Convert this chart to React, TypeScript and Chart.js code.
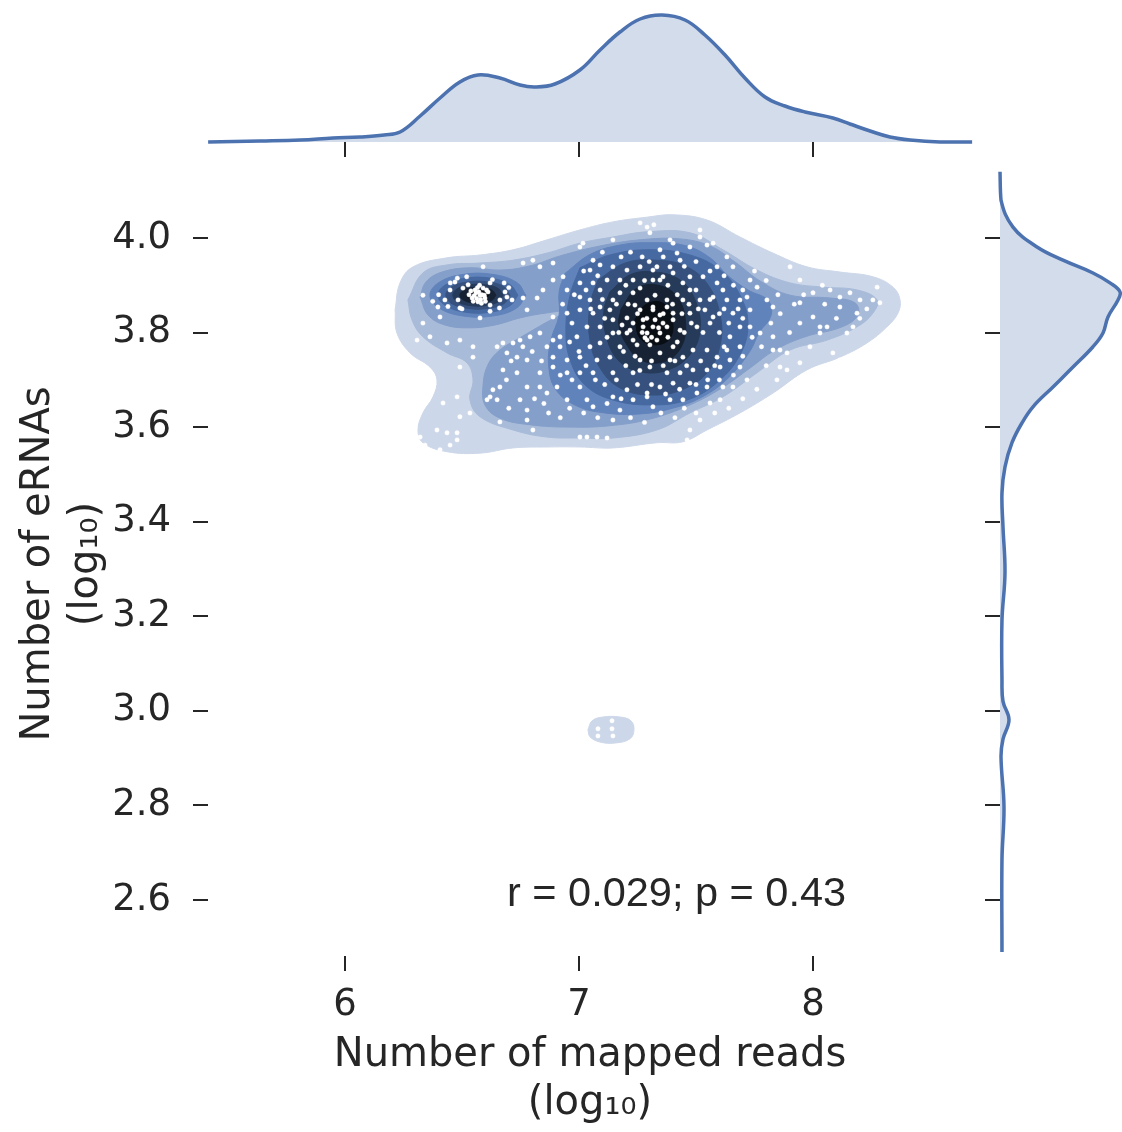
import React, { useEffect, useRef } from 'react';
import { Chart, registerables } from 'chart.js';

Chart.register(...registerables);

// ---------------- data ----------------
const xLimits = [5.4145, 8.6795];
const yLimits = [2.4816, 4.1395];
const xTicks = [6, 7, 8];
const yTicks = [2.6, 2.8, 3.0, 3.2, 3.4, 3.6, 3.8, 4.0];

const xTitle = ['Number of mapped reads', '(log\u2081\u2080)'];
const yTitle = ['Number of eRNAs', '(log\u2081\u2080)'];
const corrLabel = 'r = 0.029; p = 0.43';
const corrPos = [6.692, 2.588];

// marginal KDE of log10 mapped reads (top)
const topKdeX = [5.415, 5.637, 5.808, 5.949, 6.064, 6.167, 6.235, 6.321, 6.406, 6.491, 6.568, 6.662, 6.748, 6.812, 6.897, 7.004, 7.09, 7.175, 7.261, 7.355, 7.453, 7.538, 7.624, 7.709, 7.795, 7.88, 7.966, 8.085, 8.158, 8.244, 8.329, 8.415, 8.543, 8.68];
const topKdeDensity = [0.0, 0.01, 0.02, 0.04, 0.05, 0.07, 0.1, 0.26, 0.44, 0.6, 0.67, 0.64, 0.57, 0.55, 0.58, 0.72, 0.92, 1.1, 1.23, 1.27, 1.22, 1.07, 0.87, 0.64, 0.45, 0.36, 0.3, 0.24, 0.18, 0.11, 0.05, 0.02, 0.0, 0.0];

// marginal KDE of log10 eRNAs (right)
const rightKdeY = [4.14, 4.08, 4.023, 3.981, 3.953, 3.926, 3.905, 3.886, 3.869, 3.833, 3.799, 3.77, 3.727, 3.685, 3.643, 3.609, 3.567, 3.516, 3.461, 3.389, 3.292, 3.192, 3.066, 3.02, 2.981, 2.94, 2.903, 2.797, 2.685, 2.49];
const rightKdeDensity = [0.0, 0.01, 0.13, 0.37, 0.63, 0.93, 1.1, 1.2, 1.18, 1.08, 1.03, 0.93, 0.73, 0.53, 0.33, 0.22, 0.12, 0.05, 0.02, 0.03, 0.05, 0.02, 0.02, 0.03, 0.09, 0.03, 0.01, 0.04, 0.02, 0.02];

// KDE contour outlines (x, y), lowest density level first
const level1 = [[6.214,3.848],[6.235,3.905],[6.291,3.939],[6.436,3.958],[6.577,3.964],[6.718,3.975],[6.863,3.996],[7.004,4.017],[7.145,4.034],[7.291,4.044],[7.402,4.049],[7.547,4.038],[7.688,4.002],[7.829,3.968],[7.974,3.939],[8.115,3.928],[8.256,3.918],[8.342,3.896],[8.372,3.869],[8.363,3.841],[8.316,3.812],[8.231,3.778],[8.115,3.748],[7.974,3.721],[7.829,3.672],[7.688,3.63],[7.547,3.594],[7.444,3.569],[7.333,3.567],[7.145,3.556],[7.004,3.558],[6.863,3.558],[6.718,3.556],[6.577,3.545],[6.436,3.548],[6.333,3.567],[6.312,3.594],[6.333,3.63],[6.376,3.664],[6.393,3.7],[6.363,3.727],[6.278,3.757],[6.222,3.799]];
const level1Small = [[7.038,2.96],[7.056,2.979],[7.103,2.987],[7.175,2.987],[7.222,2.979],[7.235,2.96],[7.218,2.941],[7.154,2.932],[7.09,2.934],[7.047,2.945]];
const level2 = [[6.269,3.869],[6.333,3.926],[6.436,3.943],[6.577,3.947],[6.718,3.953],[6.863,3.968],[7.004,3.989],[7.145,4.002],[7.291,4.013],[7.474,4.011],[7.615,3.975],[7.761,3.932],[7.902,3.905],[8.043,3.896],[8.188,3.89],[8.274,3.869],[8.256,3.841],[8.188,3.812],[8.06,3.784],[7.902,3.763],[7.761,3.715],[7.615,3.664],[7.474,3.63],[7.333,3.594],[7.145,3.577],[7.004,3.577],[6.863,3.579],[6.718,3.594],[6.577,3.622],[6.534,3.658],[6.547,3.7],[6.521,3.736],[6.436,3.757],[6.333,3.791],[6.286,3.827]];
const level3 = [[6.321,3.875],[6.346,3.907],[6.415,3.928],[6.534,3.937],[6.662,3.932],[6.791,3.941],[6.919,3.962],[7.09,3.983],[7.261,3.996],[7.432,3.998],[7.56,3.983],[7.667,3.949],[7.774,3.909],[7.902,3.879],[8.073,3.873],[8.179,3.863],[8.192,3.837],[8.124,3.812],[7.966,3.791],[7.838,3.763],[7.731,3.725],[7.611,3.683],[7.474,3.647],[7.303,3.617],[7.132,3.603],[6.962,3.6],[6.791,3.605],[6.662,3.619],[6.598,3.647],[6.59,3.689],[6.611,3.732],[6.662,3.763],[6.748,3.789],[6.855,3.82],[6.94,3.844],[6.855,3.841],[6.748,3.831],[6.641,3.816],[6.534,3.81],[6.427,3.816],[6.355,3.837]];
const level4 = [[6.94,3.925],[7.047,3.965],[7.175,3.985],[7.303,3.99],[7.453,3.984],[7.56,3.958],[7.637,3.92],[7.722,3.89],[7.808,3.868],[7.82,3.835],[7.77,3.8],[7.73,3.76],[7.64,3.705],[7.53,3.665],[7.4,3.64],[7.261,3.628],[7.111,3.63],[6.99,3.645],[6.9,3.68],[6.87,3.732],[6.88,3.784],[6.915,3.837],[6.915,3.886]];
const level4Left = [[6.773,3.879],[6.734,3.906],[6.631,3.923],[6.505,3.923],[6.402,3.906],[6.363,3.879],[6.402,3.852],[6.505,3.835],[6.631,3.835],[6.734,3.852]];
const level5 = [[7.004,3.937],[7.132,3.964],[7.303,3.975],[7.474,3.964],[7.603,3.932],[7.688,3.879],[7.722,3.816],[7.688,3.753],[7.594,3.696],[7.466,3.658],[7.303,3.647],[7.141,3.658],[7.026,3.689],[6.962,3.742],[6.944,3.805],[6.962,3.879]];
const level5Left = [[6.739,3.879],[6.706,3.901],[6.621,3.915],[6.515,3.915],[6.43,3.901],[6.397,3.879],[6.43,3.857],[6.515,3.843],[6.621,3.843],[6.706,3.857]];
const level6 = [[7.081,3.911],[7.197,3.947],[7.325,3.953],[7.453,3.941],[7.551,3.901],[7.603,3.837],[7.603,3.774],[7.551,3.717],[7.44,3.679],[7.303,3.668],[7.175,3.683],[7.09,3.725],[7.047,3.784],[7.047,3.858]];
const level6Left = [[6.705,3.879],[6.679,3.897],[6.61,3.907],[6.526,3.907],[6.457,3.897],[6.431,3.879],[6.457,3.861],[6.526,3.851],[6.61,3.851],[6.679,3.861]];
const level7 = [[7.132,3.886],[7.218,3.922],[7.325,3.928],[7.432,3.911],[7.496,3.869],[7.517,3.805],[7.474,3.753],[7.38,3.721],[7.261,3.717],[7.167,3.742],[7.115,3.795],[7.107,3.848]];
const level7Left = [[6.675,3.879],[6.655,3.893],[6.601,3.901],[6.535,3.901],[6.481,3.893],[6.461,3.879],[6.481,3.865],[6.535,3.857],[6.601,3.857],[6.655,3.865]];
const level8 = [[7.18,3.85],[7.245,3.893],[7.338,3.9],[7.42,3.875],[7.455,3.822],[7.435,3.768],[7.36,3.738],[7.262,3.743],[7.195,3.782],[7.17,3.818]];
const level8Left = [[6.645,3.879],[6.63,3.889],[6.592,3.895],[6.544,3.895],[6.506,3.889],[6.491,3.879],[6.506,3.869],[6.544,3.863],[6.592,3.863],[6.63,3.869]];
const level9 = [[7.239,3.827],[7.282,3.858],[7.355,3.863],[7.397,3.831],[7.389,3.788],[7.325,3.774],[7.261,3.788]];
const level9Left = [[6.615,3.879],[6.591,3.89],[6.545,3.89],[6.521,3.879],[6.545,3.868],[6.591,3.868]];

// samples: (log10 mapped reads, log10 eRNAs)
const samples = [
[6.590,3.939],[6.333,3.879],[6.397,3.854],[6.406,3.833],[6.491,3.852],[6.577,3.831],[6.620,3.905],[6.692,3.875],[6.714,3.869],[6.761,3.873],
[6.821,3.873],[6.778,3.848],[6.846,3.890],[6.889,3.911],[6.932,3.918],[6.949,3.890],[7.004,3.905],[7.047,3.932],[7.060,3.905],[7.004,3.875],
[7.047,3.869],[7.090,3.854],[7.004,3.848],[6.949,3.841],[6.889,3.833],[6.833,3.799],[6.791,3.791],[6.748,3.784],[6.718,3.778],[6.675,3.778],
[6.650,3.770],[6.692,3.757],[6.735,3.748],[6.778,3.742],[6.863,3.770],[6.889,3.784],[6.919,3.791],[6.919,3.770],[6.889,3.748],[6.833,3.715],
[6.889,3.727],[6.949,3.742],[7.004,3.748],[7.047,3.770],[6.991,3.791],[7.034,3.812],[7.060,3.841],[7.090,3.812],[7.090,3.778],[7.077,3.742],
[7.060,3.715],[7.004,3.715],[6.949,3.715],[7.004,3.685],[7.034,3.658],[7.060,3.643],[6.949,3.658],[6.906,3.685],[6.863,3.672],[6.833,3.685],
[6.778,3.685],[6.748,3.658],[6.778,3.636],[6.735,3.715],[6.675,3.721],[6.662,3.685],[6.632,3.679],[6.620,3.664],[6.650,3.658],[6.607,3.658],
[6.491,3.727],[6.547,3.770],[6.491,3.784],[6.436,3.778],[6.363,3.791],[6.333,3.820],[6.308,3.784],[6.547,3.748],[6.479,3.664],[6.419,3.651],
[6.491,3.622],[6.534,3.630],[6.393,3.594],[6.436,3.588],[6.479,3.588],[6.449,3.562],[6.479,3.573],[6.662,3.611],[6.778,3.615],[6.803,3.594],
[7.004,3.579],[7.034,3.579],[7.077,3.579],[7.120,3.577],[7.145,3.615],[7.175,3.636],[7.231,3.658],[7.291,3.664],[7.316,3.643],[7.145,3.664],
[7.205,3.679],[7.303,3.727],[7.376,3.715],[7.389,3.742],[7.132,3.748],[7.145,3.715],[7.231,3.715],[7.261,3.742],[7.175,3.770],[7.145,3.799],
[7.205,3.799],[7.231,3.820],[7.274,3.827],[7.316,3.812],[7.359,3.820],[7.291,3.799],[7.333,3.784],[7.231,3.784],[7.145,3.827],[7.145,3.869],
[7.175,3.884],[7.231,3.884],[7.291,3.869],[7.316,3.848],[7.376,3.869],[7.402,3.841],[7.175,3.911],[7.231,3.911],[7.316,3.911],[7.359,3.918],
[7.389,3.939],[7.333,3.939],[7.261,3.939],[7.145,3.939],[7.120,3.911],[7.060,3.953],[7.004,3.981],[7.017,3.989],[7.145,3.996],[7.291,4.023],
[7.303,4.011],[7.261,4.032],[7.389,3.996],[7.419,3.968],[6.833,3.939],[6.761,3.947],[6.803,3.953],[6.889,3.947],
[7.320,4.028],[7.517,4.017],[7.517,4.002],[7.346,3.975],[7.402,3.989],[7.474,3.981],[7.547,3.985],[7.573,3.989],[7.632,3.960],[7.658,3.939],
[7.590,3.939],[7.530,3.918],[7.474,3.918],[7.402,3.926],[7.346,3.911],[7.316,3.932],[7.444,3.905],[7.590,3.905],[7.615,3.890],[7.573,3.875],
[7.731,3.911],[7.761,3.896],[7.718,3.875],[7.688,3.869],[7.632,3.869],[7.517,3.869],[7.444,3.869],[7.376,3.854],[7.316,3.854],[7.474,3.841],
[7.504,3.812],[7.573,3.833],[7.658,3.841],[7.731,3.848],[7.829,3.854],[7.803,3.869],[7.902,3.939],[7.944,3.911],[8.000,3.884],[8.073,3.890],
[8.115,3.875],[8.158,3.884],[8.201,3.869],[8.256,3.869],[8.286,3.863],[8.274,3.896],[7.944,3.863],[8.000,3.833],[8.030,3.812],[8.060,3.812],
[8.030,3.799],[8.145,3.799],[8.171,3.812],[8.188,3.841],[8.115,3.854],[7.944,3.820],[7.829,3.791],[7.859,3.763],[7.889,3.757],[7.987,3.770],
[8.085,3.757],[8.115,3.742],[8.256,3.778],[7.944,3.736],[7.859,3.727],[7.774,3.799],[7.731,3.812],[7.688,3.812],[7.645,3.791],[7.688,3.770],
[7.632,3.763],[7.590,3.748],[7.547,3.763],[7.487,3.763],[7.444,3.748],[7.402,3.770],[7.346,3.799],[7.376,3.812],[7.402,3.827],[7.274,3.812],
[7.291,3.784],[7.346,3.757],[7.432,3.715],[7.487,3.721],[7.547,3.721],[7.603,3.727],[7.645,3.742],[7.688,3.727],[7.718,3.700],[7.615,3.685],
[7.547,3.685],[7.474,3.693],[7.402,3.693],[7.346,3.685],[7.291,3.672],[7.389,3.658],[7.444,3.658],[7.504,3.672],[7.560,3.651],[7.603,3.658],
[7.658,3.685],[7.517,3.615],[7.560,3.588],[7.474,3.594],[7.462,3.573],[7.846,3.700],[7.889,3.721],[7.829,3.763],
[7.218,3.805],[7.248,3.774],[7.303,3.774],[7.261,3.848],[7.205,3.831],[7.346,3.837],[7.282,3.789],[7.184,3.816],[7.325,3.827],[7.239,3.858],
[7.432,3.805],[7.090,3.890],[7.132,3.848],[7.474,3.890],[7.538,3.848],[7.261,3.894],[7.325,3.879],[7.205,3.932],[7.432,3.953],[7.090,3.943],
[6.556,3.890],[6.577,3.879],[6.598,3.873],[6.568,3.865],[6.543,3.873],[6.611,3.886],[6.590,3.894],[6.526,3.901],[6.470,3.907],[6.449,3.890],
[6.504,3.894],[6.620,3.858],[6.483,3.869],[6.427,3.869],[6.684,3.886],[6.662,3.869],
[6.560,3.884],[6.572,3.886],[6.585,3.880],[6.563,3.872],[6.580,3.870],[6.595,3.879],[6.552,3.878],[6.566,3.895],[6.583,3.862],[6.600,3.866],
[6.548,3.866],[6.605,3.890],[6.538,3.888],[6.575,3.900],[6.530,3.880],
[6.45,3.905],[6.48,3.915],[6.52,3.918],[6.63,3.912],[6.68,3.905],[6.70,3.895],[6.44,3.855],[6.50,3.850],[6.62,3.845],[6.66,3.852],[6.40,3.880],[6.375,3.866],
[7.02,3.93],[7.08,3.92],[7.10,3.97],[7.18,3.96],[7.22,3.97],[7.27,3.96],[7.30,3.95],[7.36,3.96],[7.45,3.94],[7.50,3.95],
[7.56,3.93],[7.62,3.92],[7.66,3.90],[7.70,3.89],[7.68,3.85],[7.62,3.85],[7.56,3.87],[7.50,3.89],[7.42,3.88],[7.38,3.90],
[7.28,3.91],[7.20,3.90],[7.16,3.86],[7.11,3.83],[7.12,3.79],[7.17,3.80],[7.19,3.76],[7.24,3.75],[7.27,3.80],[7.31,3.79],
[7.34,3.81],[7.38,3.79],[7.42,3.78],[7.45,3.80],[7.48,3.82],[7.53,3.80],[7.56,3.82],[7.60,3.80],[7.62,3.77],[7.58,3.73],
[7.52,3.74],[7.46,3.73],[7.41,3.74],[7.36,3.73],[7.31,3.74],[7.26,3.72],[7.20,3.73],[7.16,3.70],[7.11,3.69],[7.07,3.70],
[7.03,3.73],[7.00,3.76],[6.96,3.78],[6.97,3.82],[6.93,3.86],[6.98,3.88],[7.03,3.89],[7.05,3.85],[7.10,3.87],[7.21,3.86],
[7.25,3.84],[7.29,3.83],[7.36,3.84],[7.40,3.86],[7.44,3.84],[7.47,3.86],[7.51,3.85],[7.60,3.84],[7.64,3.82],[7.70,3.83],
[7.74,3.79],[7.70,3.75],[7.66,3.71],[7.60,3.70],[7.55,3.70],[7.50,3.69],[7.43,3.68],[7.37,3.67],[7.31,3.69],[7.25,3.69],
[7.18,3.66],[7.12,3.65],[7.08,3.62],[7.02,3.63],[6.96,3.64],[6.92,3.62],[6.87,3.63],[6.85,3.65],[6.81,3.66],[6.70,3.64],
[6.69,3.70],[6.71,3.74],[6.76,3.77],[6.80,3.76],[6.84,3.74],[6.92,3.71],[6.97,3.70],[7.22,3.62],[7.28,3.61],[7.35,3.63],
[7.41,3.62],[7.45,3.64],[7.50,3.63],[7.58,3.63],[7.64,3.64],[7.70,3.66],[7.76,3.68],[7.80,3.73],[7.78,3.77],[7.82,3.82],
[7.86,3.84],[7.90,3.80],[7.92,3.86],[7.96,3.88],[8.05,3.86],[8.10,3.83],[8.20,3.83],[8.23,3.85],[8.04,3.90],[7.85,3.88],
[7.80,3.91],[7.75,3.93],
[6.321,3.579],[6.342,3.562],[6.406,3.552],
[7.081,2.962],[7.081,2.947],[7.141,2.979],[7.141,2.962],[7.145,2.947]
];

// Blues-like cmap of the deep blue hue, light to dark
const levelColors = ['rgb(204,215,233)', 'rgb(168,187,217)', 'rgb(132,159,202)', 'rgb(97,131,187)', 'rgb(70,105,161)', 'rgb(54,81,125)', 'rgb(38,58,89)', 'rgb(23,35,53)', 'rgb(9,13,20)'];

// ---------------- layout / style ----------------
const W = 1122;
const H = 1132;
const INK = '#262626';
const LINE_BLUE = '#4c72b0';
const FILL_BLUE = 'rgba(76,114,176,0.25)';
const TICK_FONT = { family: '"DejaVu Sans", sans-serif', size: 37 };
const TITLE_FONT = { family: '"DejaVu Sans", sans-serif', size: 40, lineHeight: 1.2 };

const tickGrid = { display: true, drawOnChartArea: false, drawTicks: true, tickLength: 15, color: INK, lineWidth: 2 };

const setTicks = (vals: number[]) => (axis: any) => {
  axis.ticks = vals.map((v) => ({ value: v }));
};

const toXY = (pairs: number[][]) => pairs.map(([x, y]) => ({ x, y }));
const closed = (pairs: number[][]) => toXY([...pairs, pairs[0]]);

function contourDataset(poly: number[][], level: number) {
  const color = levelColors[level];
  return {
    type: 'line',
    data: closed(poly),
    showLine: true,
    fill: 'shape',
    backgroundColor: color,
    borderColor: color,
    borderWidth: 1,
    pointRadius: 0,
    tension: 0.4,
    order: 20 - level,
  };
}

const corrPlugin = {
  id: 'corrText',
  afterDatasetsDraw(chart: any) {
    const { ctx, scales } = chart;
    ctx.save();
    ctx.font = '41.5px "Liberation Sans", Arial, sans-serif';
    ctx.fillStyle = INK;
    ctx.textAlign = 'left';
    ctx.textBaseline = 'alphabetic';
    ctx.fillText(corrLabel, scales.x.getPixelForValue(corrPos[0]), scales.y.getPixelForValue(corrPos[1]));
    ctx.restore();
  },
};

function mainConfig(): any {
  const polys: [number[][], number][] = [
    [level1, 0], [level1Small, 0], [level2, 1], [level3, 2],
    [level4, 3], [level4Left, 3], [level5, 4], [level5Left, 4],
    [level6, 5], [level6Left, 5], [level7, 6], [level7Left, 6],
    [level8, 7], [level8Left, 7], [level9, 8], [level9Left, 8],
  ];
  return {
    type: 'line',
    data: {
      datasets: [
        {
          type: 'line',
          data: toXY(samples),
          showLine: false,
          pointRadius: 2.2,
          pointBackgroundColor: '#ffffff',
          pointBorderColor: 'rgba(255,255,255,0.8)',
          pointBorderWidth: 0.5,
          order: 0,
        },
        ...polys.map(([p, l]) => contourDataset(p, l)),
      ],
    },
    options: {
      responsive: false,
      animation: false,
      events: [],
      layout: { padding: { top: 172, right: 150, left: 0, bottom: 0 } },
      plugins: { legend: { display: false }, tooltip: { enabled: false } },
      scales: {
        x: {
          type: 'linear',
          min: xLimits[0],
          max: xLimits[1],
          afterBuildTicks: setTicks(xTicks),
          afterFit: (a: any) => { a.height = 176; },
          grid: tickGrid,
          border: { display: false },
          ticks: { font: TICK_FONT, color: INK, padding: 12, maxRotation: 0, autoSkip: false, callback: (v: any) => String(v) },
          title: { display: true, text: xTitle, font: TITLE_FONT, color: INK, padding: { top: 0, bottom: 4 } },
        },
        y: {
          type: 'linear',
          min: yLimits[0],
          max: yLimits[1],
          afterBuildTicks: setTicks(yTicks),
          afterFit: (a: any) => { a.width = 208; },
          grid: tickGrid,
          border: { display: false },
          ticks: { font: TICK_FONT, color: INK, padding: 22, autoSkip: false, callback: (v: any) => Number(v).toFixed(1) },
          title: { display: true, text: yTitle, font: TITLE_FONT, color: INK, padding: { top: 15, bottom: 0 } },
        },
      },
    },
    plugins: [corrPlugin],
  };
}

function topConfig(): any {
  return {
    type: 'line',
    data: {
      datasets: [
        {
          data: topKdeX.map((x, i) => ({ x, y: topKdeDensity[i] })),
          borderColor: LINE_BLUE,
          borderWidth: 3.5,
          backgroundColor: FILL_BLUE,
          fill: 'origin',
          pointRadius: 0,
          tension: 0.4,
          clip: 4,
        },
      ],
    },
    options: {
      responsive: false,
      animation: false,
      events: [],
      layout: { padding: { top: 10, left: 208, right: 150, bottom: 970 } },
      plugins: { legend: { display: false }, tooltip: { enabled: false } },
      scales: {
        x: {
          type: 'linear',
          min: xLimits[0],
          max: xLimits[1],
          afterBuildTicks: setTicks(xTicks),
          afterFit: (a: any) => { a.height = 20; },
          grid: tickGrid,
          border: { display: false },
          ticks: { display: false },
        },
        y: { type: 'linear', display: false, min: 0, max: 1.32 },
      },
    },
  };
}

function rightConfig(): any {
  return {
    type: 'line',
    data: {
      datasets: [
        {
          data: rightKdeY.map((y, i) => ({ x: rightKdeDensity[i], y })),
          borderColor: LINE_BLUE,
          borderWidth: 3.5,
          backgroundColor: FILL_BLUE,
          fill: 'origin',
          pointRadius: 0,
          tension: 0.4,
          clip: 4,
        },
      ],
    },
    options: {
      indexAxis: 'y',
      responsive: false,
      animation: false,
      events: [],
      layout: { padding: { top: 172, left: 980, right: 0, bottom: 176 } },
      plugins: { legend: { display: false }, tooltip: { enabled: false } },
      scales: {
        y: {
          type: 'linear',
          min: yLimits[0],
          max: yLimits[1],
          afterBuildTicks: setTicks(yTicks),
          afterFit: (a: any) => { a.width = 20; },
          grid: tickGrid,
          border: { display: false },
          ticks: { display: false },
        },
        x: { type: 'linear', display: false, min: 0, max: 1.22 },
      },
    },
  };
}

export default function App() {
  const mainRef = useRef<HTMLCanvasElement>(null);
  const topRef = useRef<HTMLCanvasElement>(null);
  const rightRef = useRef<HTMLCanvasElement>(null);

  useEffect(() => {
    const charts = [
      new Chart(mainRef.current as HTMLCanvasElement, mainConfig()),
      new Chart(topRef.current as HTMLCanvasElement, topConfig()),
      new Chart(rightRef.current as HTMLCanvasElement, rightConfig()),
    ];
    return () => charts.forEach((c) => c.destroy());
  }, []);

  const cstyle: React.CSSProperties = { position: 'absolute', left: 0, top: 0, width: W, height: H };
  return (
    <div style={{ position: 'absolute', left: 0, top: 0, width: W, height: H, overflow: 'hidden', background: '#ffffff' }}>
      <canvas ref={mainRef} width={W} height={H} style={cstyle} />
      <canvas ref={topRef} width={W} height={H} style={cstyle} />
      <canvas ref={rightRef} width={W} height={H} style={cstyle} />
    </div>
  );
}
